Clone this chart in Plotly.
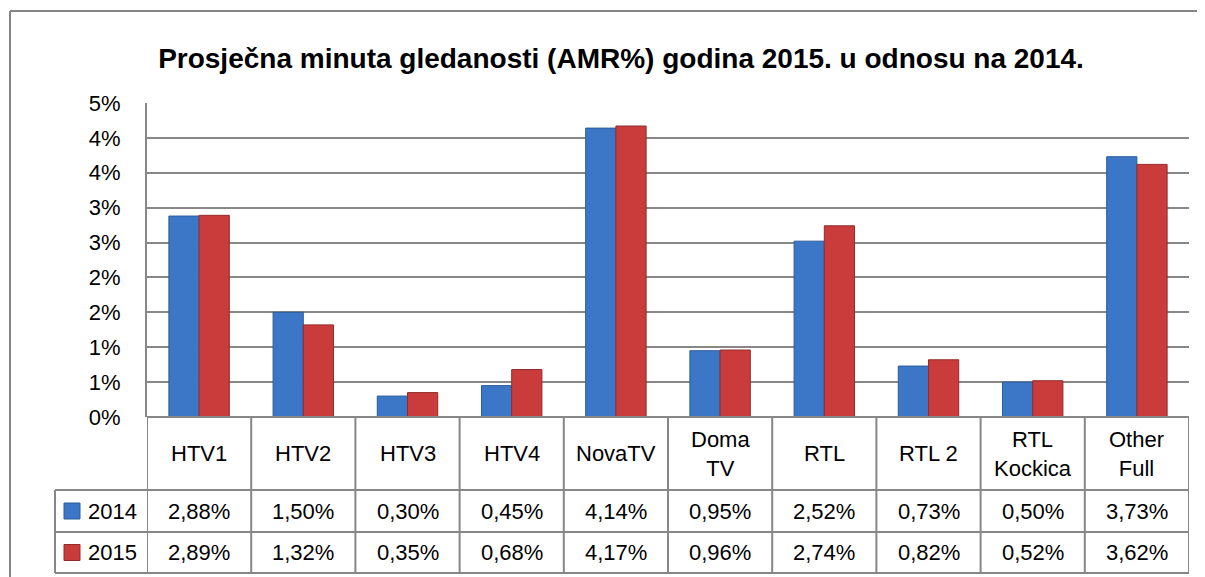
import plotly.graph_objects as go
from decimal import Decimal, ROUND_HALF_UP

categories = ["HTV1", "HTV2", "HTV3", "HTV4", "NovaTV", "Doma<br>TV", "RTL", "RTL 2", "RTL<br>Kockica", "Other<br>Full"]
series_names = ["2014", "2015"]
values_2014 = [2.88, 1.50, 0.30, 0.45, 4.14, 0.95, 2.52, 0.73, 0.50, 3.73]
values_2015 = [2.89, 1.32, 0.35, 0.68, 4.17, 0.96, 2.74, 0.82, 0.52, 3.62]
tick_values = [0, 0.5, 1.0, 1.5, 2.0, 2.5, 3.0, 3.5, 4.0, 4.5]
title_text = "Prosječna minuta gledanosti (AMR%) godina 2015. u odnosu na 2014."

colors = ["#3B77C6", "#C93C3B"]
line_colors = ["#2B5C9C", "#922B2A"]

# the page body adds an 8px margin, so design in screen pixels minus 8
OFF = 8
W, H = 1205 - OFF, 577 - OFF
ML, MR, MT, MB = 147 - OFF, 1205 - 1189, 103 - OFF, 577 - 417
PW, PH = W - ML - MR, H - MT - MB
FONT = "Liberation Sans"
GRID = "#878787"


def py_(py):
    """screen pixel y -> paper y"""
    return (H - MB - (py - OFF)) / PH


def px_(px):
    """screen pixel x -> paper x"""
    return ((px - OFF) - ML) / PW


def fmt_tick(v):
    return f"{int(Decimal(str(v)).quantize(Decimal('1'), rounding=ROUND_HALF_UP))}%"


def fmt_val(v):
    return f"{v:.2f}%".replace(".", ",")


x_idx = list(range(len(categories)))
fig = go.Figure()
for name, vals, c, lc in zip(series_names, [values_2014, values_2015], colors, line_colors):
    fig.add_trace(go.Bar(x=x_idx, y=vals, name=name, marker=dict(color=c, line=dict(color=lc, width=1)),
                         showlegend=False))

shapes = []
annotations = []
n = len(categories)
row_cat_bottom = py_(490)
row1_bottom = py_(532)
row2_bottom = py_(573)
legend_left = px_(55)

line = dict(color=GRID, width=2)
for i in range(n + 1):
    shapes.append(dict(type="line", xref="x", yref="paper", x0=i - 0.5, x1=i - 0.5, y0=0, y1=row2_bottom, line=line))
shapes.append(dict(type="line", xref="x", yref="paper", x0=-0.5, x1=n - 0.5, y0=0, y1=0, line=line))
for yy in [row_cat_bottom, row1_bottom, row2_bottom]:
    shapes.append(dict(type="line", xref="paper", yref="paper", x0=legend_left, x1=1, y0=yy, y1=yy, line=line))
shapes.append(dict(type="line", xref="paper", yref="paper", x0=legend_left, x1=legend_left,
                   y0=row_cat_bottom, y1=row2_bottom, line=line))

# outer chart border (left and top visible)
bl, bt = px_(10), py_(11)
shapes.append(dict(type="line", xref="paper", yref="paper", x0=bl, x1=bl, y0=bt, y1=py_(600),
                   line=dict(color="#868686", width=2)))
shapes.append(dict(type="line", xref="paper", yref="paper", x0=bl, x1=px_(1230), y0=bt, y1=bt,
                   line=dict(color="#868686", width=2)))

tfont = dict(family=FONT, size=22, color="#000000")
cat_mid = (0 + row_cat_bottom) / 2
r1_mid = (row_cat_bottom + row1_bottom) / 2
r2_mid = (row1_bottom + row2_bottom) / 2
for i, cat in enumerate(categories):
    annotations.append(dict(x=i, y=cat_mid, xref="x", yref="paper", text=cat, showarrow=False,
                            font=tfont, xanchor="center", yanchor="middle", align="center"))
    annotations.append(dict(x=i, y=r1_mid, xref="x", yref="paper", text=fmt_val(values_2014[i]), showarrow=False,
                            font=tfont, xanchor="center", yanchor="middle"))
    annotations.append(dict(x=i, y=r2_mid, xref="x", yref="paper", text=fmt_val(values_2015[i]), showarrow=False,
                            font=tfont, xanchor="center", yanchor="middle"))

for name, ymid, c, lc in zip(series_names, [r1_mid, r2_mid], colors, line_colors):
    half = 8 / PH
    shapes.append(dict(type="rect", xref="paper", yref="paper", x0=px_(64), x1=px_(80),
                       y0=ymid - half, y1=ymid + half, fillcolor=c, line=dict(color=lc, width=1)))
    annotations.append(dict(x=px_(86), y=ymid, xref="paper", yref="paper", text=name, showarrow=False,
                            font=tfont, xanchor="left", yanchor="middle"))

fig.update_layout(
    width=W, height=H,
    margin=dict(l=ML, r=MR, t=MT, b=MB),
    paper_bgcolor="white", plot_bgcolor="white",
    bargap=0.42, bargroupgap=0, barmode="group",
    title=dict(text=f"<b>{title_text}</b>", x=(621 - OFF) / W, y=1 - (58 - OFF) / H, xanchor="center",
               yanchor="middle", font=dict(family=FONT, size=28, color="#000000")),
    xaxis=dict(range=[-0.5, n - 0.5], showticklabels=False, showgrid=False, zeroline=False, showline=False,
               fixedrange=True),
    yaxis=dict(range=[0, 4.5], tickvals=tick_values, ticktext=[fmt_tick(v) for v in tick_values],
               showgrid=True, gridcolor=GRID, gridwidth=2, zeroline=False, showline=True, linecolor=GRID,
               linewidth=2, ticks="", ticklabelstandoff=20, tickfont=tfont, fixedrange=True),
    shapes=shapes, annotations=annotations,
    font=dict(family=FONT),
)
fig.write_html("out.html")
